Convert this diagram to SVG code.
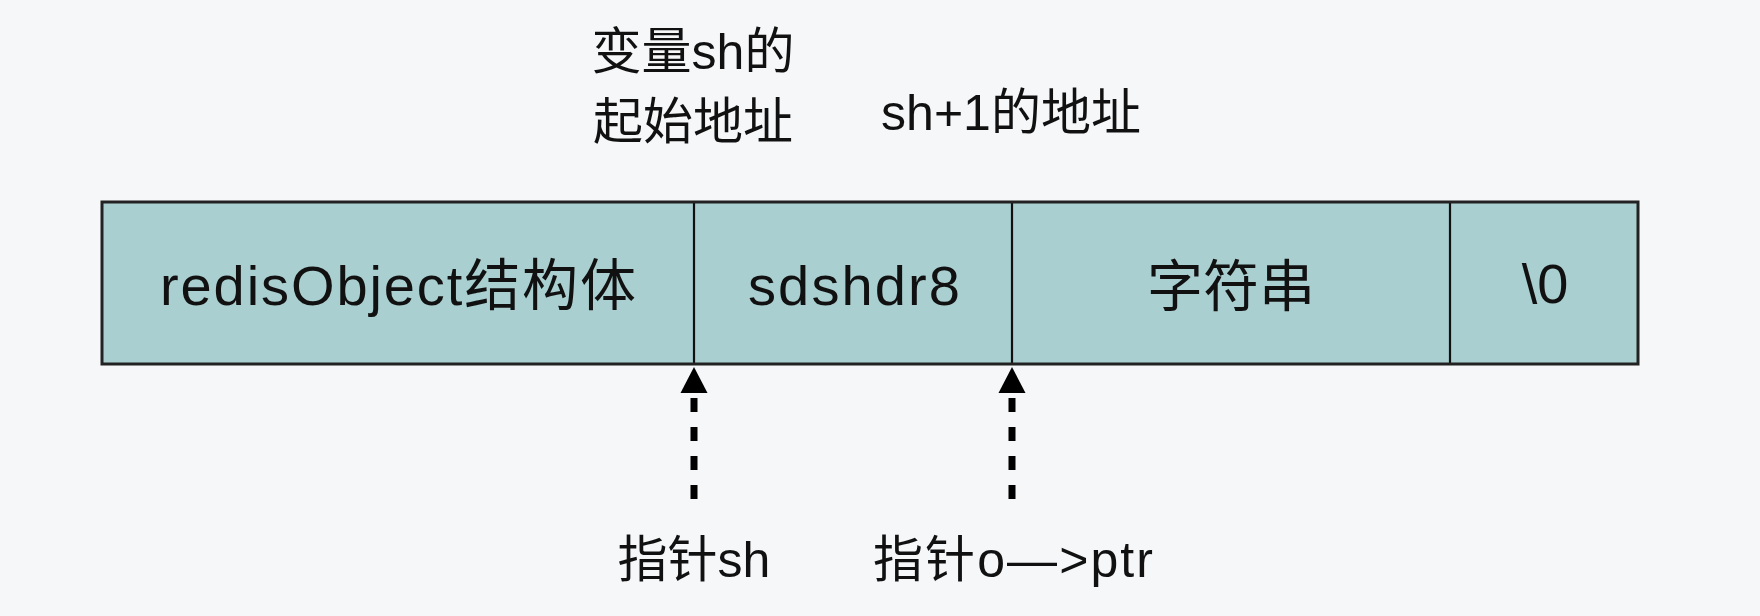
<svg xmlns="http://www.w3.org/2000/svg" width="1760" height="616" viewBox="0 0 1760 616">
<style>
.t{font-family:"Liberation Sans","Noto Sans CJK SC",sans-serif;fill:#111;}
.big{font-size:56px;text-anchor:middle;}
.lab{font-size:50px;text-anchor:middle;}
.cell{fill:#aacfd0;stroke:none;}
.div{stroke:#111;stroke-width:2.2;}
.ptr{stroke:#000;stroke-width:7;stroke-dasharray:14 15;fill:none;}
</style>
<defs>
<marker id="ah" markerUnits="userSpaceOnUse" markerWidth="40" markerHeight="30" refX="0" refY="0" orient="auto" overflow="visible">
<path d="M5,-13.5 L31,0 L5,13.5 Z" fill="#000"/>
</marker>
</defs>
<rect x="0" y="0" width="1760" height="616" fill="#f5f7f9"/>
<g id="memory">
<rect class="cell" x="102" y="202" width="1536" height="162"/>
<g id="cell-redisObject">
<text class="t big" x="398" y="305" textLength="476">redisObject结构体</text>
</g>
<g id="cell-sdshdr8">
<text class="t big" x="854" y="305" textLength="212">sdshdr8</text>
</g>
<g id="cell-string">
<text class="t big" x="1231" y="306">字符串</text>
</g>
<g id="cell-nul">
<text class="t big" x="1545" y="303">\0</text>
</g>
<line class="div" x1="694" y1="202" x2="694" y2="364"/>
<line class="div" x1="1012" y1="202" x2="1012" y2="364"/>
<line class="div" x1="1450" y1="202" x2="1450" y2="364"/>
<rect x="102" y="202" width="1536" height="162" fill="none" stroke="#222" stroke-width="3"/>
</g>
<g id="label-sh-start">
<text class="t lab" x="693" y="69">变量sh的</text>
<text class="t lab" x="693" y="139">起始地址</text>
</g>
<g id="label-sh1">
<text class="t lab" x="1011" y="130">sh+1的地址</text>
</g>
<g id="label-ptr-sh">
<text class="t lab" x="694" y="577">指针sh</text>
</g>
<g id="label-ptr-o">
<text class="t lab" x="1013" y="577" textLength="280">指针o—&gt;ptr</text>
</g>
<g id="connectors">
<line class="ptr" x1="694" y1="499" x2="694" y2="398" marker-end="url(#ah)"/>
<line class="ptr" x1="1012" y1="499" x2="1012" y2="398" marker-end="url(#ah)"/>
</g>
</svg>
